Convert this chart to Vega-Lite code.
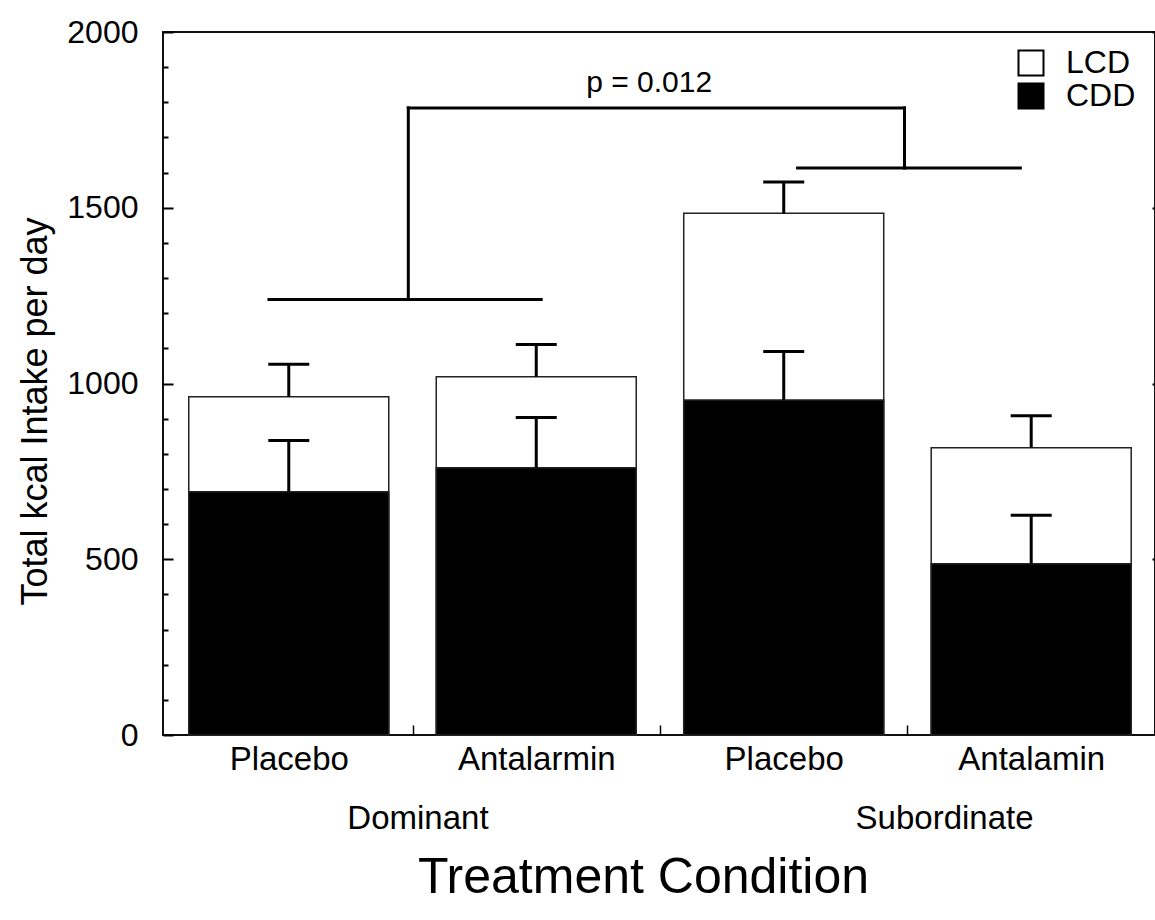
{
  "$schema": "https://vega.github.io/schema/vega-lite/v6.json",
  "width": 992,
  "height": 703,
  "autosize": {"type": "none"},
  "padding": {"left": 163, "top": 32, "right": 0, "bottom": 185},
  "config": {
    "font": "Liberation Sans",
    "view": {"stroke": "#111", "strokeWidth": 2},
    "axis": {"grid": false, "domain": false, "labelColor": "black", "tickColor": "black", "titleColor": "black", "titleFontWeight": "normal", "labelFont": "Liberation Sans", "titleFont": "Liberation Sans", "labelFlush": false, "labelOverlap": false}
  },
  "datasets": {
    "bars": [
      {"pos": 1, "group": "Dominant", "treatment": "Placebo", "diet": "LCD", "kcal": 962, "upper": 1055},
      {"pos": 2, "group": "Dominant", "treatment": "Antalarmin", "diet": "LCD", "kcal": 1019, "upper": 1111},
      {"pos": 3, "group": "Subordinate", "treatment": "Placebo", "diet": "LCD", "kcal": 1484, "upper": 1573},
      {"pos": 4, "group": "Subordinate", "treatment": "Antalamin", "diet": "LCD", "kcal": 817, "upper": 908},
      {"pos": 1, "group": "Dominant", "treatment": "Placebo", "diet": "CDD", "kcal": 692, "upper": 838},
      {"pos": 2, "group": "Dominant", "treatment": "Antalarmin", "diet": "CDD", "kcal": 760, "upper": 903},
      {"pos": 3, "group": "Subordinate", "treatment": "Placebo", "diet": "CDD", "kcal": 953, "upper": 1091},
      {"pos": 4, "group": "Subordinate", "treatment": "Antalamin", "diet": "CDD", "kcal": 487, "upper": 625}
    ],
    "bracket": [
      {"x1": 0.92, "x2": 2.02, "y1": 1239, "y2": 1239},
      {"x1": 1.483, "x2": 1.483, "y1": 1239, "y2": 1784},
      {"x1": 1.483, "x2": 3.488, "y1": 1784, "y2": 1784},
      {"x1": 3.488, "x2": 3.488, "y1": 1784, "y2": 1613},
      {"x1": 3.056, "x2": 3.956, "y1": 1613, "y2": 1613}
    ],
    "note": [
      {"x": 2.456, "y": 1854, "label": "p = 0.012"}
    ]
  },
  "resolve": {"axis": {"x": "independent", "y": "independent"}},
  "layer": [
    {
      "data": {"name": "bars"},
      "mark": {"type": "bar", "width": 200, "stroke": "#222", "strokeWidth": 1.5},
      "encoding": {
        "x": {"field": "pos", "type": "quantitative", "scale": {"domain": [0.512, 4.48], "nice": false, "zero": false},
          "axis": {"orient": "bottom", "values": [1, 2, 3, 4], "labelExpr": "['', 'Placebo', 'Antalarmin', 'Placebo', 'Antalamin'][datum.value]", "ticks": false, "labelFontSize": 33, "labelPadding": 8, "title": null}},
        "y": {"field": "kcal", "type": "quantitative", "stack": null, "scale": {"domain": [0, 2000], "nice": false},
          "axis": {"orient": "left", "values": [0, 500, 1000, 1500, 2000], "format": "d", "tickSize": -10, "tickWidth": 2, "labelPadding": 35, "labelFontSize": 32, "title": "Total kcal Intake per day", "titleFontSize": 36, "titlePadding": 12, "titleY": 379}},
        "color": {"field": "diet", "type": "nominal", "scale": {"domain": ["LCD", "CDD"], "range": ["white", "black"]},
          "legend": {"title": null, "orient": "none", "legendX": 852, "legendY": 15, "padding": 0, "symbolType": "square", "symbolSize": 625, "symbolStrokeColor": "black", "symbolStrokeWidth": 2, "labelFontSize": 32, "labelOffset": 19, "rowPadding": -3, "labelColor": "black"}}
      }
    },
    {
      "data": {"name": "bars"},
      "mark": {"type": "rule", "strokeWidth": 3, "color": "black"},
      "encoding": {
        "x": {"field": "pos", "type": "quantitative", "scale": {"domain": [0.512, 4.48], "nice": false, "zero": false},
          "axis": {"orient": "bottom", "values": [1.52, 3.648], "labelExpr": "datum.value < 2.5 ? 'Dominant' : 'Subordinate'", "ticks": false, "labelPadding": 67, "labelFontSize": 33, "title": "Treatment Condition", "titleFontSize": 50, "titlePadding": 17, "titleX": 480}},
        "y": {"field": "kcal", "type": "quantitative", "scale": {"domain": [0, 2000], "nice": false},
          "axis": {"orient": "left", "values": [100, 200, 300, 400, 600, 700, 800, 900, 1100, 1200, 1300, 1400, 1600, 1700, 1800, 1900], "tickSize": -5, "tickWidth": 2, "labels": false, "title": null}},
        "y2": {"field": "upper"}
      }
    },
    {
      "data": {"name": "bars"},
      "mark": {"type": "tick", "orient": "horizontal", "size": 41, "thickness": 3, "color": "black", "opacity": 1},
      "encoding": {
        "x": {"field": "pos", "type": "quantitative", "scale": {"domain": [0.512, 4.48], "nice": false, "zero": false},
          "axis": {"orient": "bottom", "values": [1.5, 2.5, 3.5], "tickSize": -10, "tickWidth": 1.5, "labels": false, "title": null}},
        "y": {"field": "upper", "type": "quantitative", "scale": {"domain": [0, 2000], "nice": false},
          "axis": {"orient": "right", "values": [500, 1000, 1500, 2000], "tickSize": -3, "tickWidth": 2, "labels": false, "title": null}}
      }
    },
    {
      "data": {"name": "bracket"},
      "mark": {"type": "rule", "strokeWidth": 3, "color": "black", "strokeCap": "square"},
      "encoding": {
        "x": {"field": "x1", "type": "quantitative", "scale": {"domain": [0.512, 4.48], "nice": false, "zero": false}, "axis": null},
        "x2": {"field": "x2"},
        "y": {"field": "y1", "type": "quantitative", "scale": {"domain": [0, 2000], "nice": false}, "axis": null},
        "y2": {"field": "y2"}
      }
    },
    {
      "data": {"name": "note"},
      "mark": {"type": "text", "fontSize": 30, "baseline": "middle", "align": "center", "color": "black"},
      "encoding": {
        "x": {"field": "x", "type": "quantitative", "scale": {"domain": [0.512, 4.48], "nice": false, "zero": false}, "axis": null},
        "y": {"field": "y", "type": "quantitative", "scale": {"domain": [0, 2000], "nice": false}, "axis": null},
        "text": {"field": "label"}
      }
    }
  ]
}
